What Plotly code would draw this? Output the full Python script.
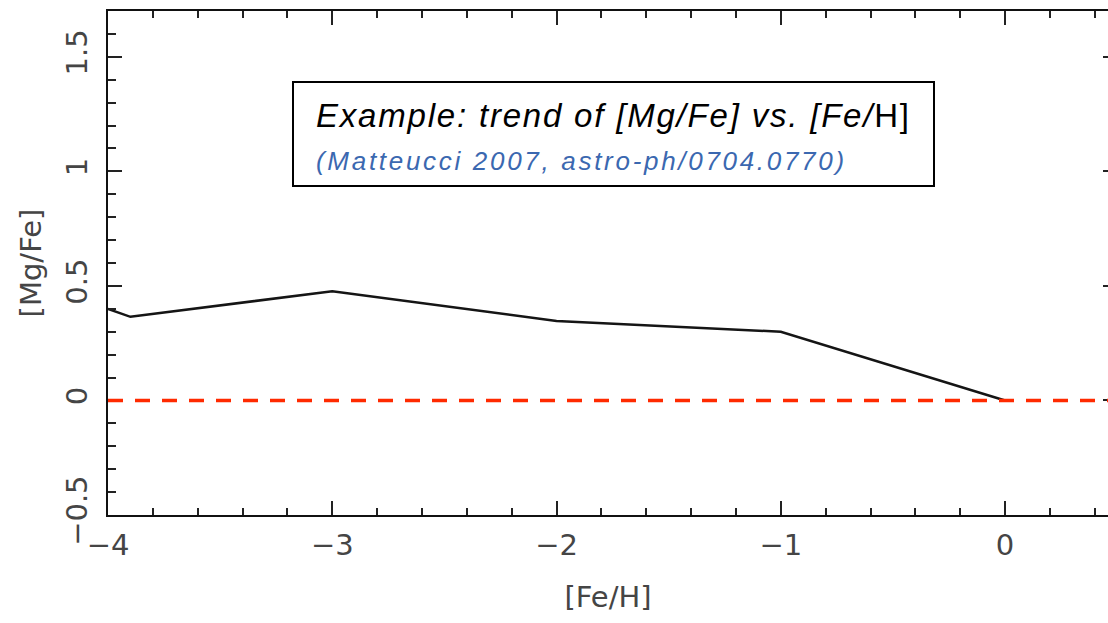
import plotly.graph_objects as go

# [Mg/Fe] vs [Fe/H] model trend
feh = [-4.0, -3.9, -3.0, -2.0, -1.0, 0.0]
mgfe = [0.40, 0.365, 0.477, 0.347, 0.30, 0.0]

x_major = [-4, -3, -2, -1, 0]
x_major_text = ["\u22124", "\u22123", "\u22122", "\u22121", "0"]
y_major = [-0.5, 0, 0.5, 1, 1.5]
y_major_text = ["\u22120.5", "0", "0.5", "1", "1.5"]

x_range = [-4.0, 0.459]
y_range = [-0.5, 1.7]

axis_font = dict(family="DejaVu Sans", size=29, color="#454545")

fig = go.Figure()

fig.add_trace(go.Scatter(
    x=feh, y=mgfe, mode="lines",
    line=dict(color="#151515", width=2.5),
    showlegend=False, hoverinfo="skip",
))

# solar reference level
fig.add_hline(y=0, line=dict(color="#9a9a9a", width=2, dash="2px,25px"), layer="below")
fig.add_hline(y=0, line=dict(color="#ff2a00", width=3.5, dash="15px,12px"), layer="above")

fig.update_layout(
    width=1108, height=623,
    margin=dict(l=108, r=0, t=11, b=108),
    paper_bgcolor="white", plot_bgcolor="white",
    showlegend=False,
    xaxis=dict(
        range=x_range, tickmode="array", tickvals=x_major, ticktext=x_major_text,
        ticks="inside", ticklen=14, tickwidth=2, tickcolor="#222",
        minor=dict(dtick=0.2, tick0=0, ticks="inside", ticklen=7, tickwidth=2, tickcolor="#222"),
        showline=True, linewidth=2, linecolor="#111", mirror="ticks",
        showgrid=False, zeroline=False,
        tickfont=axis_font, ticklabelstandoff=3,
        title=dict(text="[Fe/H]", font=axis_font, standoff=26),
    ),
    yaxis=dict(
        range=y_range, tickmode="array", tickvals=y_major, ticktext=y_major_text,
        ticks="inside", ticklen=14, tickwidth=2, tickcolor="#222",
        minor=dict(dtick=0.1, tick0=0, ticks="inside", ticklen=8, tickwidth=2, tickcolor="#222"),
        showline=True, linewidth=2, linecolor="#111", mirror=False,
        showgrid=False, zeroline=False, tickangle=-90,
        tickfont=axis_font, ticklabelstandoff=7,
        title=dict(text="[Mg/Fe]", font=axis_font, standoff=10),
    ),
    yaxis2=dict(
        range=y_range, overlaying="y", side="right", tickmode="array", tickvals=y_major,
        ticks="inside", ticklen=5, tickwidth=2, tickcolor="#222",
        showticklabels=False, showline=False, showgrid=False, zeroline=False,
    ),
)

fig.add_trace(go.Scatter(x=[None], y=[None], yaxis="y2", showlegend=False, hoverinfo="skip"))

# framed caption: empty bordered box, then the two text lines inside it
fig.add_annotation(
    xref="paper", yref="paper", x=0.5055, y=0.756, xanchor="center", yanchor="middle",
    text=" ", width=639, height=102, showarrow=False,
    bordercolor="black", borderwidth=2, borderpad=0, bgcolor="white",
)
fig.add_annotation(
    xref="paper", yref="paper", x=0.207, y=0.751, xanchor="left", yanchor="middle",
    text=("<span style='letter-spacing:1.8px'><i>Example: trend of [Mg/Fe] vs. [Fe/</i>H]</span><br>"
          "<span style='font-size:26px;color:#3b68b0;letter-spacing:2.7px'>"
          "<i>(Matteucci 2007, astro-ph/0704.0770)</i></span>"),
    font=dict(family="Liberation Sans", size=33, color="black"),
    align="left", showarrow=False, borderpad=0,
)

fig.write_html("out.html")
